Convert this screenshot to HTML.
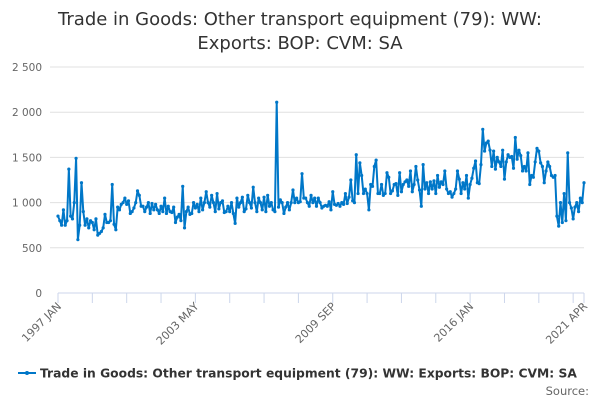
<!DOCTYPE html>
<html><head><meta charset="utf-8"><style>
body{margin:0;background:#fff;font-family:"DejaVu Sans","Liberation Sans",sans-serif;}
#wrap{position:relative;width:600px;height:400px;overflow:hidden;}
</style></head><body>
<div id="wrap">
<svg id="chart" width="600" height="400" font-family="DejaVu Sans, Liberation Sans, sans-serif">
<text x="300" y="25" text-anchor="middle" font-size="18" fill="#333">Trade in Goods: Other transport equipment (79): WW:</text>
<text x="300" y="49" text-anchor="middle" font-size="18" fill="#333">Exports: BOP: CVM: SA</text>
<g id="grid"></g><g id="xaxis"></g><g id="series"></g>
<g>
<line x1="18" y1="373" x2="36" y2="373" stroke="#0077c8" stroke-width="2"/>
<circle cx="27" cy="373" r="2" fill="#0077c8"/>
<text x="40" y="377.5" font-size="12.3" font-weight="bold" fill="#333">Trade in Goods: Other transport equipment (79): WW: Exports: BOP: CVM: SA</text>
</g>
<text x="589" y="395" text-anchor="end" font-size="11.5" fill="#666">Source:</text>
</svg>
</div>
<script>
const yTicks=[0,500,1000,1500,2000,2500];
const yTickLabels=["0","500","1 000","1 500","2 000","2 500"];
const xLabels=[[0,"1997 JAN"],[76,"2003 MAY"],[152,"2009 SEP"],[228,"2016 JAN"],[291,"2021 APR"]];
const values=[
850,800,750,920,750,800,1370,850,820,1000,1490,590,
750,1220,900,750,820,720,800,780,700,820,640,660,
680,720,870,780,780,800,1200,760,700,950,920,980,
1000,1050,980,1020,880,900,940,1000,1130,1080,960,960,
900,950,1000,880,990,920,980,920,880,960,900,1050,
880,960,900,890,950,780,840,870,800,1180,720,900,
950,870,880,1000,940,980,900,1050,920,1000,1120,1000,
950,1080,1000,900,1100,930,1000,1020,890,900,960,900,
1000,880,770,1050,950,1000,1060,900,930,1080,1000,940,
1170,1000,900,1050,1000,920,1060,900,1080,960,1000,920,
900,2110,950,1030,1000,880,950,1000,920,1000,1140,1000,
1050,1000,1010,1320,1050,1050,1000,960,1080,1000,1050,960,
1050,1000,940,960,970,960,1010,920,1120,980,970,990,
960,1000,980,1100,990,1060,1250,1020,1000,1530,1100,1440,
1300,1100,1150,1100,920,1200,1180,1400,1470,1100,1100,1200,
1080,1100,1330,1280,1100,1130,1200,1210,1080,1330,1120,1200,
1230,1250,1180,1350,1120,1200,1400,1250,1140,960,1420,1150,
1220,1100,1230,1150,1240,1100,1300,1170,1230,1200,1350,1150,
1100,1120,1060,1100,1150,1350,1260,1100,1220,1150,1300,1050,
1200,1270,1380,1460,1220,1210,1420,1810,1570,1660,1680,1580,
1400,1570,1370,1500,1450,1400,1580,1260,1450,1530,1500,1510,
1380,1720,1480,1580,1520,1350,1400,1350,1550,1200,1300,1280,
1450,1600,1570,1440,1400,1220,1350,1450,1400,1300,1280,1300,
850,740,1000,780,1100,800,1550,1000,940,820,950,1000,
900,1050,1000,1220];
const ns="http://www.w3.org/2000/svg";
const X0=58,X1=584,Y0=293,Y1=67,N=values.length;
const xs=i=>X0+i*(X1-X0)/(N-1);
const ys=v=>Y0-v*(Y0-Y1)/2500;
function mk(t,a,p){const e=document.createElementNS(ns,t);for(const k in a)e.setAttribute(k,a[k]);p.appendChild(e);return e;}
const grid=document.getElementById('grid');
yTicks.forEach((v,i)=>{
 if(v>0){const l=mk('line',{x1:50,x2:X1,y1:ys(v),y2:ys(v),stroke:'#e0e0e0','stroke-width':1},grid);
 
 }
 const t=mk('text',{x:42,y:ys(v)+4,'text-anchor':'end','font-size':10.5,fill:'#666'},grid);
 t.textContent=yTickLabels[i];
 
 
});
const xa=document.getElementById('xaxis');
const ax=mk('line',{x1:X0,x2:X1,y1:Y0,y2:Y0,stroke:'#ccd6eb','stroke-width':1},xa);


for(let i=0;i<N;i+=19){
 const tk=mk('line',{x1:xs(i),x2:xs(i),y1:Y0,y2:Y0+10,stroke:'#ccd6eb'},xa);
 
 
}
const lt=mk('line',{x1:xs(N-1),x2:xs(N-1),y1:Y0,y2:Y0+10,stroke:'#ccd6eb'},xa);


xLabels.forEach(([i,s])=>{
 const x=xs(i)+4,y=Y0+14;
 const t=mk('text',{x:x,y:y,'text-anchor':'end','font-size':11,fill:'#666',transform:`rotate(-45 ${x} ${y})`},xa);
 t.textContent=s;
 
 
});
const sg=document.getElementById('series');
const d=values.map((v,i)=>(i?'L':'M')+xs(i).toFixed(2)+' '+ys(v).toFixed(2)).join(' ');
const p=mk('path',{d:d,fill:'none',stroke:'#0077c8','stroke-width':2,'stroke-linejoin':'round'},sg);


values.forEach((v,i)=>{
 const c=mk('circle',{cx:xs(i),cy:ys(v),r:1.6,fill:'#0077c8'},sg);
 
 
});
</script>
</body></html>
